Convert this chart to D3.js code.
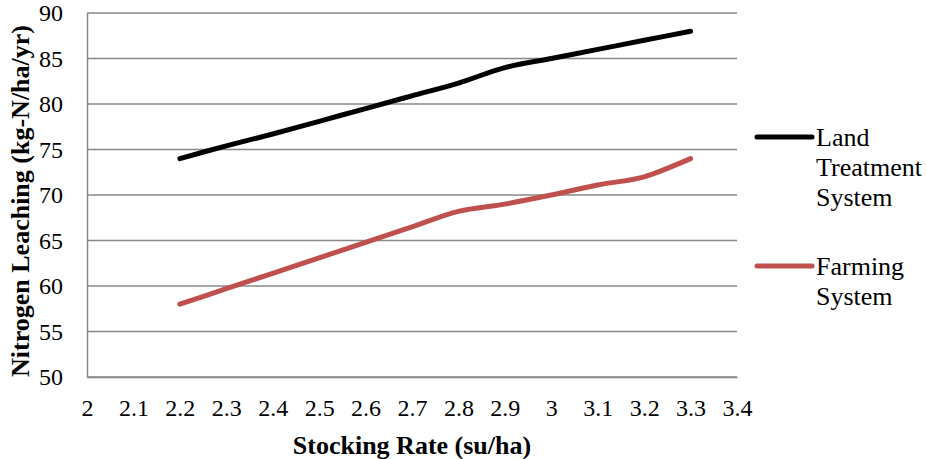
<!DOCTYPE html>
<html>
<head>
<meta charset="utf-8">
<script src="https://cdn.jsdelivr.net/npm/d3@7"></script>
<style>
  html, body { margin: 0; padding: 0; background: #fff; }
</style>
</head>
<body>
<svg id="chart" width="926" height="459"></svg>
<script>
// Stocking rate (su/ha)
const stockingRate = [2.2, 2.3, 2.4, 2.5, 2.6, 2.7, 2.8, 2.9, 3.0, 3.1, 3.2, 3.3];
// Nitrogen leaching (kg-N/ha/yr)
const landTreatment = [74, 75.4, 76.7, 78.1, 79.5, 80.9, 82.3, 84, 85, 86, 87, 88];
const farmingSystem = [58, 59.7, 61.4, 63.1, 64.8, 66.5, 68.2, 69, 70, 71.1, 72, 74];
const seriesNames = [["Land", "Treatment", "System"], ["Farming", "System"]];
const seriesColors = ["#000000", "#C0504D"];
const xTicks = [2, 2.1, 2.2, 2.3, 2.4, 2.5, 2.6, 2.7, 2.8, 2.9, 3, 3.1, 3.2, 3.3, 3.4];
const yTicks = [50, 55, 60, 65, 70, 75, 80, 85, 90];

const FONT = '"Liberation Serif"';
const svg = d3.select("#chart");
const x = d3.scaleLinear().domain([2, 3.4]).range([87, 737]);
const y = d3.scaleLinear().domain([50, 90]).range([377, 13]);

// horizontal gridlines
svg.append("g").selectAll("line").data(yTicks).join("line")
  .attr("x1", x(2)).attr("x2", x(3.4))
  .attr("y1", d => y(d)).attr("y2", d => y(d))
  .attr("stroke", "#888").attr("stroke-width", 1.5);

// y axis
const yAxis = svg.append("g").attr("transform", `translate(${x(2)},0)`)
  .call(d3.axisLeft(y).tickValues(yTicks).tickSize(0).tickPadding(24).tickFormat(d3.format("d")));
yAxis.select(".domain").attr("stroke", "#888").attr("stroke-width", 1.5);
yAxis.selectAll("text").attr("font-size", 24).attr("fill", "#000").style("font-family", FONT);

// x axis
const xAxis = svg.append("g").attr("transform", `translate(0,${y(50)})`)
  .call(d3.axisBottom(x).tickValues(xTicks).tickSize(0).tickPadding(22).tickFormat(d => String(+d.toFixed(1))));
xAxis.select(".domain").attr("stroke", "#888").attr("stroke-width", 1.5);
xAxis.selectAll("text").attr("font-size", 24).attr("fill", "#000").style("font-family", FONT);

// axis titles
svg.append("text")
  .attr("x", (x(2) + x(3.4)) / 2).attr("y", 454)
  .attr("text-anchor", "middle").attr("font-weight", "bold").attr("font-size", 26)
  .style("font-family", FONT)
  .text("Stocking Rate (su/ha)");
svg.append("text")
  .attr("transform", `translate(29,${(y(50) + y(90)) / 2 + 6}) rotate(-90)`)
  .attr("text-anchor", "middle").attr("font-weight", "bold").attr("font-size", 26)
  .style("font-family", FONT)
  .text("Nitrogen Leaching (kg-N/ha/yr)");

// series lines
const line = d3.line()
  .x(d => x(d[0])).y(d => y(d[1]))
  .curve(d3.curveCatmullRom.alpha(0.5));
[landTreatment, farmingSystem].forEach((vals, i) => {
  svg.append("path")
    .datum(stockingRate.map((s, j) => [s, vals[j]]))
    .attr("d", line)
    .attr("fill", "none")
    .attr("stroke", seriesColors[i])
    .attr("stroke-width", 5)
    .attr("stroke-linecap", "round")
    .attr("stroke-linejoin", "round");
});

// legend
const legendY = [137, 266];
seriesNames.forEach((lines, i) => {
  const g = svg.append("g");
  g.append("line")
    .attr("x1", 757).attr("x2", 812)
    .attr("y1", legendY[i]).attr("y2", legendY[i])
    .attr("stroke", seriesColors[i]).attr("stroke-width", 5)
    .attr("stroke-linecap", "round");
  const t = g.append("text").attr("font-size", 26).attr("fill", "#000")
    .style("font-family", FONT);
  lines.forEach((s, k) => {
    t.append("tspan").attr("x", 816).attr("y", legendY[i] + 9 + k * 30).text(s);
  });
});
</script>
</body>
</html>
